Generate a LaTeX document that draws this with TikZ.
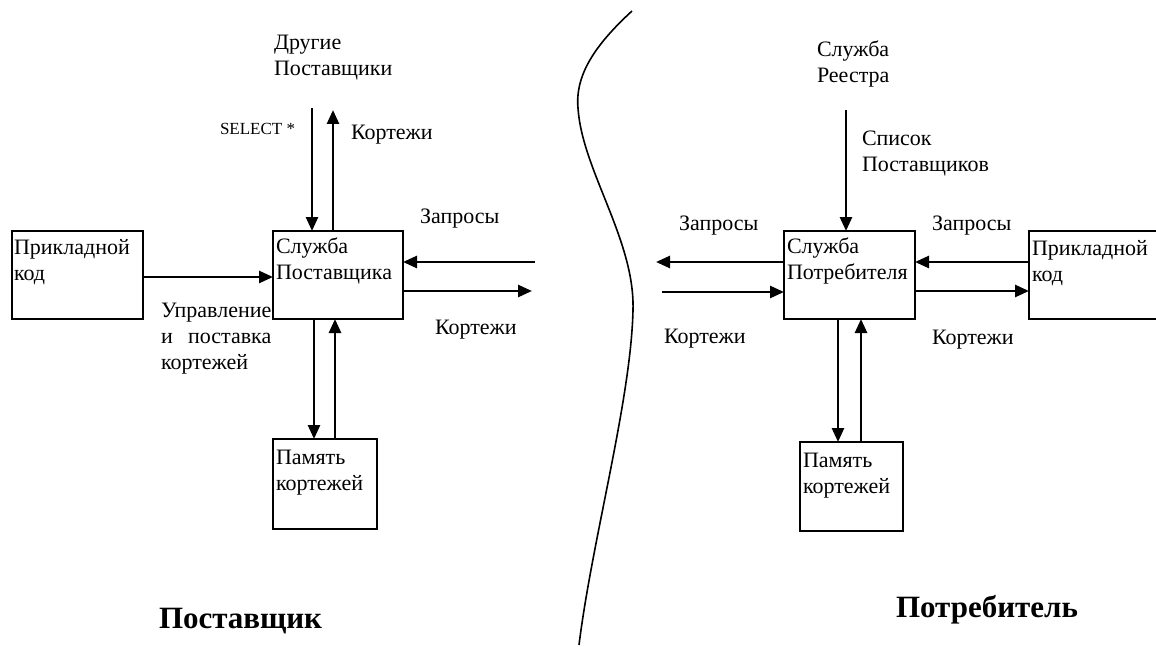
\documentclass[tikz,border=0pt]{standalone}
\usepackage{fontspec}
\setmainfont{Liberation Serif}
\usepackage{calc}
\usetikzlibrary{arrows.meta,calc}
\begin{document}
\begin{tikzpicture}[x=1pt,y=-1pt,
  every node/.style={font=\fontsize{22}{26}\selectfont, inner sep=0pt, outer sep=0pt},
  box/.style={draw, line width=2pt, inner sep=0pt},
  txt/.style={anchor=base west, align=left},
  arr/.style={line width=2.6pt, -{Triangle[length=14pt,width=12pt]}},
  title/.style={anchor=base west, font=\fontsize{31}{35}\selectfont\bfseries},
  small/.style={anchor=base west, font=\fontsize{17}{20}\selectfont},
]
\useasboundingbox (0,0) rectangle (1156,647);

% boxes
\node[box, minimum width=131pt, minimum height=88pt] (appL) at (77.5,275) {};
\node[box, minimum width=130pt, minimum height=88pt] (sup) at (338,275) {};
\node[box, minimum width=104pt, minimum height=90pt] (memL) at (325,484) {};
\node[box, minimum width=131pt, minimum height=88pt] (con) at (849.5,275) {};
\node[box, minimum width=103pt, minimum height=89pt] (memR) at (851.5,486.5) {};
\node[minimum width=140pt, minimum height=88pt] (appR) at (1099,275) {};
\draw[line width=2pt] (appR.north east) -- (appR.north west) -- (appR.south west) -- (appR.south east);

% box texts (anchored at the baseline of the last line)
\node[txt] (tAppL) at (14,280) {Прикладной\\код};
\node[txt] (tSup) at (276,279) {Служба\\Поставщика};
\node[txt] (tMemL) at (276,490) {Память\\кортежей};
\node[txt] (tCon) at (787,279) {Служба\\Потребителя};
\node[txt] (tMemR) at (803,493) {Память\\кортежей};
\node[txt] (tAppR) at (1032,281) {Прикладной\\код};

% other texts
\node[txt] (tOther) at (274,76) {Другие\\Поставщики};
\node[txt] (tReg) at (817,83) {Служба\\Реестра};
\node[txt] (tList) at (862,172) {Список\\Поставщиков};
\node[small] (tSel) at (220,135) {SELECT *};
\node[txt] (lK1) at (351,140) {Кортежи};
\node[txt] (lZ1) at (420,223) {Запросы};
\node[txt] (lK2) at (435,334) {Кортежи};
\node[txt] (lCtl) at (161,369) {Управление\\\makebox[\widthof{Управление}][s]{и поставка}\\кортежей};
\node[txt] (lZ2) at (679,230) {Запросы};
\node[txt] (lK3) at (664,343) {Кортежи};
\node[txt] (lZ3) at (932,230) {Запросы};
\node[txt] (lK4) at (932,344) {Кортежи};
\node[title] (tSupT) at (159,628) {Поставщик};
\node[title] (tConT) at (896,617) {Потребитель};

% supplier arrows
\coordinate (supTopD) at (312,108);
\coordinate (supTopU) at (333,110);
\draw[arr] (supTopD) -- (supTopD |- sup.north);
\draw[arr] (supTopU |- sup.north) -- (supTopU);
\draw[arr] ([yshift=-2pt]appL.east) -- ([yshift=-2pt]sup.west);
\coordinate (supRin) at (535,262);
\draw[arr] (supRin) -- (supRin -| sup.east);
\coordinate (supRout) at (532,291);
\draw[arr] (supRout -| sup.east) -- (supRout);
\coordinate (supBD) at (314,0);
\coordinate (supBU) at (335,0);
\draw[arr] (supBD |- sup.south) -- (supBD |- memL.north);
\draw[arr] (supBU |- memL.north) -- (supBU |- sup.south);

% consumer arrows
\coordinate (conTop) at (846,110);
\draw[arr] (conTop) -- (conTop |- con.north);
\coordinate (conLout) at (656,262);
\draw[arr] (conLout -| con.west) -- (conLout);
\coordinate (conLin) at (662,292);
\draw[arr] (conLin) -- (conLin -| con.west);
\draw[arr] ([yshift=13pt]appR.west) -- ([yshift=13pt]con.east);
\draw[arr] ([yshift=-16pt]con.east) -- ([yshift=-16pt]appR.west);
\coordinate (conBD) at (838,0);
\coordinate (conBU) at (861,0);
\draw[arr] (conBD |- con.south) -- (conBD |- memR.north);
\draw[arr] (conBU |- memR.north) -- (conBU |- con.south);

% dividing curve
\draw[line width=1.6pt] (632,11) .. controls (595,45) and (575,75) .. (578,108)
  .. controls (582,170) and (635,240) .. (633,310)
  .. controls (631,400) and (592,540) .. (579,645);
\end{tikzpicture}
\end{document}
